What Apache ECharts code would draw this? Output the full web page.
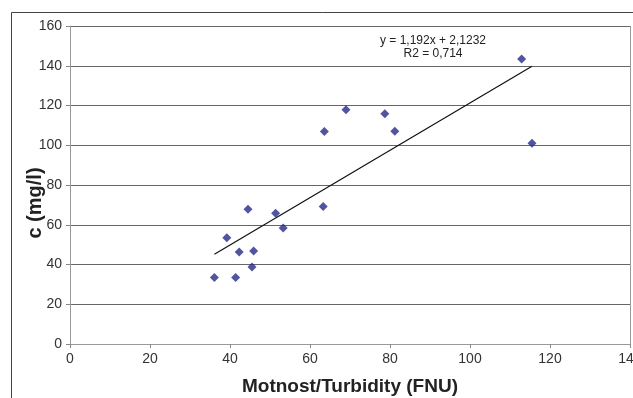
<!DOCTYPE html>
<html>
<head>
<meta charset="utf-8">
<script src="https://cdn.jsdelivr.net/npm/echarts@6/dist/echarts.min.js"></script>
<style>
html,body{margin:0;padding:0;background:#fff}
#myCanvas{width:633px;height:398px}
</style>
</head>
<body>
<div id="myCanvas"></div>
<script>
// measured points: turbidity (FNU) vs concentration (mg/l)
var turbidity = [36.1, 39.2, 41.4, 42.3, 44.5, 45.5, 45.9, 51.4, 53.3, 63.3, 63.6, 69, 78.7, 81.2, 112.9, 115.5];
var conc      = [33.4, 53.4, 33.4, 46.3, 67.8, 38.8, 46.8, 65.8, 58.4, 69.2, 106.9, 117.8, 115.8, 107.1, 143.4, 101];
// linear trend y = a*x + b, shown in the chart
var slope = 1.192;
var intercept = 2.1232;
var eqText = ['y = 1,192x + 2,1232', 'R2 = 0,714'];

var points = turbidity.map(function (x, i) { return [x, conc[i]]; });
var xMin = Math.min.apply(null, turbidity);
var xMax = Math.max.apply(null, turbidity);
var trend = [[xMin, slope * xMin + intercept], [xMax, slope * xMax + intercept]];

var myChart = echarts.init(document.getElementById('myCanvas'));
var fontFam = 'Liberation Sans, Arial, sans-serif';
var labelFont = {color: '#333', fontSize: 14, fontFamily: fontFam};

var option = {
    animation: false,
    grid: {left: 70, top: 26, width: 560, height: 318, outerBoundsMode: 'none', containLabel: false},
    xAxis: {
        type: 'value',
        min: 0, max: 140, interval: 20,
        name: 'Motnost/Turbidity (FNU)',
        nameLocation: 'middle',
        nameGap: 33,
        nameTextStyle: {color: '#222', fontSize: 19, fontWeight: 'bold', fontFamily: fontFam},
        axisLine: {lineStyle: {color: '#999', width: 1}},
        axisTick: {show: true, length: 4, lineStyle: {color: '#888'}},
        axisLabel: Object.assign({margin: 8}, labelFont),
        splitLine: {show: false}
    },
    yAxis: {
        type: 'value',
        min: 0, max: 160, interval: 20,
        axisLine: {show: true, lineStyle: {color: '#999', width: 1}},
        axisTick: {show: true, length: 4, lineStyle: {color: '#888'}},
        axisLabel: Object.assign({margin: 8}, labelFont),
        splitLine: {show: true, lineStyle: {color: '#666', width: 1}}
    },
    graphic: [
        // outer frame (top and left only visible)
        {type: 'rect', shape: {x: 11.5, y: 12.5, width: 700, height: 500},
         style: {fill: null, stroke: '#444', lineWidth: 1}, silent: true},
        // right border of plot area
        {type: 'line', shape: {x1: 630.5, y1: 26, x2: 630.5, y2: 344},
         style: {stroke: '#999', lineWidth: 1}, silent: true},
        {type: 'text', x: 433, y: 34,
         style: {text: eqText.join('\n'), fill: '#222', font: '12px ' + fontFam,
                 textAlign: 'center', lineHeight: 13}},
        // y axis title
        {type: 'text', x: 35, y: 203, rotation: Math.PI / 2,
         style: {text: 'c (mg/l)', fill: '#222', font: 'bold 20px ' + fontFam,
                 textAlign: 'center', textVerticalAlign: 'middle'}}
    ],
    series: [
        {
            type: 'scatter',
            data: points,
            symbol: 'diamond',
            symbolSize: 9,
            itemStyle: {color: '#26298a'},
            z: 3
        },
        {
            type: 'line',
            data: trend,
            symbol: 'none',
            lineStyle: {color: '#111', width: 1.2},
            z: 2
        }
    ]
};

myChart.setOption(option);
</script>
</body>
</html>
